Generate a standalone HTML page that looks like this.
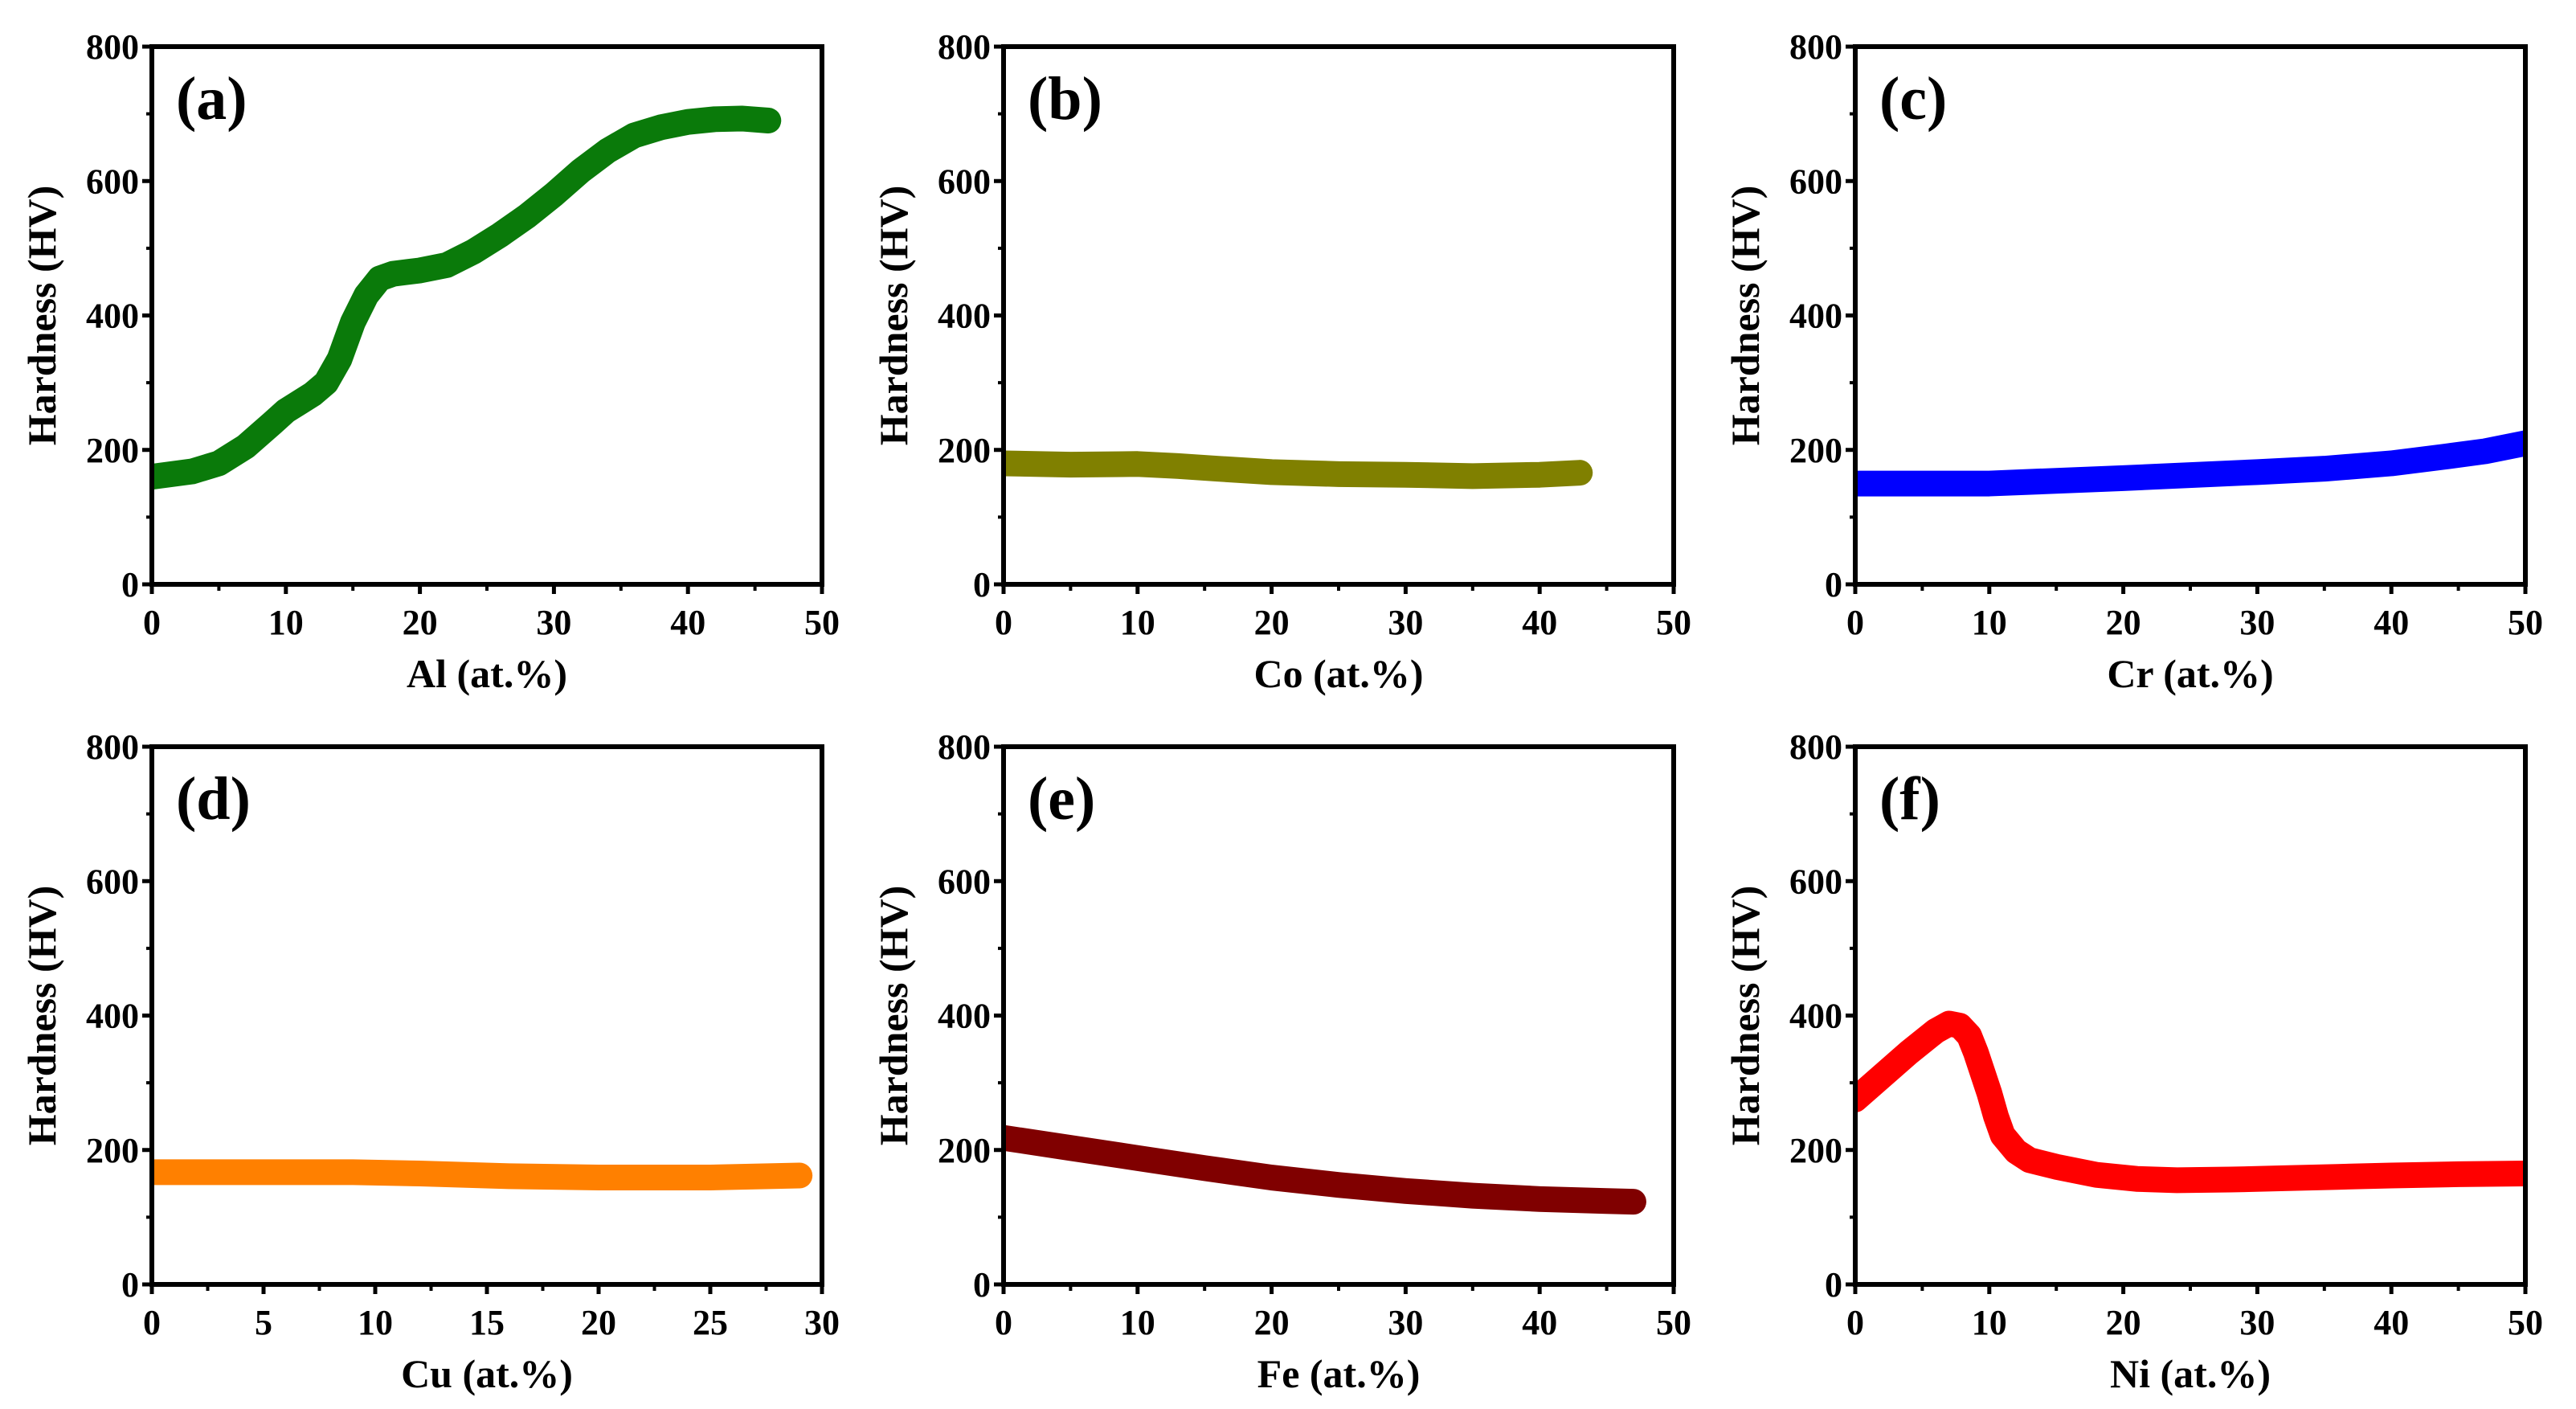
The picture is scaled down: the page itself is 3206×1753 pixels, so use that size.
<!DOCTYPE html>
<html><head><meta charset="utf-8"><style>
html,body{margin:0;padding:0;background:#fff}
svg text{font-family:"Liberation Serif",serif;font-weight:bold;fill:#000}
</style></head><body>
<svg id="fig" width="3206" height="1748" viewBox="0 0 3206 1748" xmlns="http://www.w3.org/2000/svg"></svg>
<script>
// ---- data ----
const aX=[0,3,5,7,9,10,12,13,14,15,16,17,18,20,22,24,26,28,30,32,34,36,38,40,42,44,46];
const aY=[160,168,180,205,240,258,283,300,335,390,430,455,462,467,475,495,520,548,580,615,645,668,680,688,692,693,690];
const bX=[0,5,10,13,16,20,25,30,35,40,43];
const bY=[180,178,179,176,172,167,164,163,161,163,166];
const cX=[0,10,20,30,35,40,44,47,50];
const cY=[150,150,158,167,172,180,190,198,210];
const dX=[0,5,9,12,16,20,25,29];
const dY=[167,167,167,165,161,159,159,162];
const eX=[0,5,10,15,20,25,30,35,40,45,47];
const eY=[218,203,188,173,159,148,139,132,127,124,123];
const fX=[0,2,4,6,7,7.8,8.5,9,9.5,10,10.5,11,12,13,15,18,21,24,28,32,36,40,45,50];
const fY=[275,310,345,377,388,385,370,345,315,285,250,222,198,185,175,163,157,155,156,158,160,162,164,165];
const yTicks=[0,200,400,600,800];
const xTicks50=[0,10,20,30,40,50];
const xTicks30=[0,5,10,15,20,25,30];
const labels=['(a)','(b)','(c)','(d)','(e)','(f)'];
const xTitles=['Al (at.%)','Co (at.%)','Cr (at.%)','Cu (at.%)','Fe (at.%)','Ni (at.%)'];
const colors=['#0a7a0a','#808000','#0000ff','#ff8000','#800000','#ff0000'];
const series=[[aX,aY],[bX,bY],[cX,cY],[dX,dY],[eX,eY],[fX,fY]];

const NS='http://www.w3.org/2000/svg';
const svg=document.getElementById('fig');
function mk(tag,attrs,parent){const e=document.createElementNS(NS,tag);for(const k in attrs)e.setAttribute(k,attrs[k]);(parent||svg).appendChild(e);return e;}
const lefts=[189,1249,2309], tops=[58,929], W=834, H=669;
const ids=['a','b','c','d','e','f'];
for(let p=0;p<6;p++){
  const L=lefts[p%3], T=tops[Math.floor(p/3)];
  const xmax=p===3?30:50, xt=p===3?xTicks30:xTicks50, minorStep=p===3?2.5:5;
  const sx=v=>L+v/xmax*W, sy=v=>T+H-v/800*H;
  const g=mk('g',{});
  
  
  const clipId='clip'+p;
  const cp=mk('clipPath',{id:clipId},g);mk('rect',{x:L,y:T,width:W,height:H},cp);
  const pts=series[p][0].map((x,i)=>sx(x)+','+sy(series[p][1][i])).join(' ');
  const line=mk('polyline',{points:pts,fill:'none',stroke:colors[p],'stroke-width':32,'stroke-linecap':'round','stroke-linejoin':'round','clip-path':'url(#'+clipId+')'},g);
  
  
  const fr=mk('rect',{x:L,y:T,width:W,height:H,fill:'none',stroke:'#000','stroke-width':6},g);
  
  
  yTicks.forEach(v=>{
    mk('line',{x1:L-12,x2:L,y1:sy(v),y2:sy(v),stroke:'#000','stroke-width':5},g);
    const t=mk('text',{x:L-16,y:sy(v)+15,'text-anchor':'end','font-size':44},g);
    t.textContent=v;
    
    
  });
  for(let v=100;v<800;v+=200) mk('line',{x1:L-7,x2:L,y1:sy(v),y2:sy(v),stroke:'#000','stroke-width':4},g);
  xt.forEach(v=>{
    mk('line',{x1:sx(v),x2:sx(v),y1:T+H,y2:T+H+12,stroke:'#000','stroke-width':5},g);
    const t=mk('text',{x:sx(v),y:T+H+62,'text-anchor':'middle','font-size':44},g);
    t.textContent=v;
    
    
  });
  for(let v=minorStep;v<xmax;v+=minorStep*2) mk('line',{x1:sx(v),x2:sx(v),y1:T+H,y2:T+H+8,stroke:'#000','stroke-width':4},g);
  const xtl=mk('text',{x:L+W/2,y:T+H+128,'text-anchor':'middle','font-size':50},g);
  xtl.textContent=xTitles[p];
  
  
  const ytl=mk('text',{x:0,y:0,'text-anchor':'middle','font-size':50,transform:'translate('+(L-120)+','+(T+H/2)+') rotate(-90)'},g);
  ytl.textContent='Hardness (HV)';
  
  
  const pl=mk('text',{x:L+30,y:T+90,'font-size':76},g);
  pl.textContent=labels[p];
  
  
}
</script>
</body></html>
